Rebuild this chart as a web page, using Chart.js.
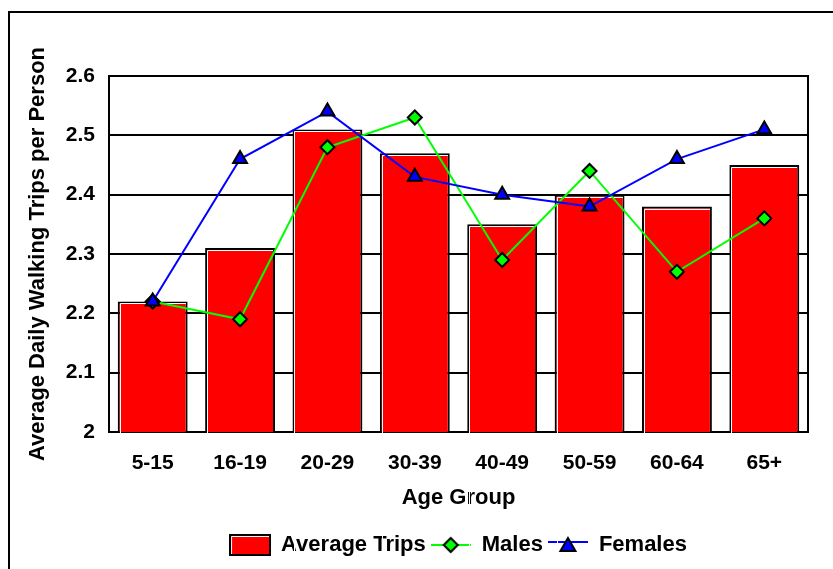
<!DOCTYPE html>
<html>
<head>
<meta charset="utf-8">
<script src="https://cdn.jsdelivr.net/npm/chart.js@4/dist/chart.umd.min.js"></script>
<style>
  body { margin: 0; background: #fff; }
  canvas { display: block; }
</style>
</head>
<body>
<canvas id="walkChart" width="833" height="569"></canvas>
<script>
const ageGroups = ['5-15', '16-19', '20-29', '30-39', '40-49', '50-59', '60-64', '65+'];
const averageTrips = [2.22, 2.31, 2.51, 2.47, 2.35, 2.40, 2.38, 2.45];
const males = [2.22, 2.19, 2.48, 2.53, 2.29, 2.44, 2.27, 2.36];
const females = [2.22, 2.46, 2.54, 2.43, 2.40, 2.38, 2.46, 2.51];
const yTickLabels = ['2', '2.1', '2.2', '2.3', '2.4', '2.5', '2.6'];

const FONT = "'Liberation Sans', Arial, sans-serif";

// little canvases used as legend symbols
function makeIcon(w, h, draw) {
  const c = document.createElement('canvas');
  c.width = w;
  c.height = h;
  draw(c.getContext('2d'), w, h);
  return c;
}

const barIcon = makeIcon(42, 22, (ctx) => {
  ctx.fillStyle = '#ff0000';
  ctx.fillRect(1, 1, 40, 20);
  ctx.strokeStyle = '#000';
  ctx.lineWidth = 2;
  ctx.strokeRect(1, 1, 40, 20);
  ctx.strokeStyle = '#fff';
  ctx.lineWidth = 1;
  ctx.beginPath();
  ctx.moveTo(2.5, 20);
  ctx.lineTo(2.5, 2.5);
  ctx.lineTo(40, 2.5);
  ctx.stroke();
});

const maleIcon = makeIcon(40, 18, (ctx, w, h) => {
  ctx.strokeStyle = '#00ff00';
  ctx.lineWidth = 2;
  ctx.beginPath();
  ctx.moveTo(0, 9);
  ctx.lineTo(w, 9);
  ctx.stroke();
  ctx.beginPath();
  ctx.moveTo(20, 2);
  ctx.lineTo(27, 9);
  ctx.lineTo(20, 16);
  ctx.lineTo(13, 9);
  ctx.closePath();
  ctx.fillStyle = '#00ff00';
  ctx.fill();
  ctx.strokeStyle = '#000';
  ctx.stroke();
});

const femaleIcon = makeIcon(40, 18, (ctx, w, h) => {
  ctx.strokeStyle = '#0000ff';
  ctx.lineWidth = 2;
  ctx.beginPath();
  ctx.moveTo(0, 6);
  ctx.lineTo(w, 6);
  ctx.stroke();
  ctx.beginPath();
  ctx.moveTo(20, 2);
  ctx.lineTo(27.5, 15);
  ctx.lineTo(12.5, 15);
  ctx.closePath();
  ctx.fillStyle = '#0000ff';
  ctx.fill();
  ctx.strokeStyle = '#000';
  ctx.stroke();
});
const legendIcons = [barIcon, maleIcon, femaleIcon];

// frame round the plot and the outer frame of the picture
const framePlugin = {
  id: 'frames',
  beforeDatasetsDraw(chart) {
    const {ctx, chartArea} = chart;
    ctx.save();
    ctx.strokeStyle = '#000';
    ctx.lineWidth = 2;
    ctx.strokeRect(chartArea.left, chartArea.top, chartArea.right - chartArea.left, chartArea.bottom - chartArea.top);
    ctx.beginPath();
    ctx.moveTo(9, 569);
    ctx.lineTo(9, 12);
    ctx.lineTo(833, 12);
    ctx.stroke();
    ctx.restore();
  },
  // white highlight inside the bars (old 3d look)
  afterDatasetDraw(chart, args) {
    if (args.index !== 0) return;
    const ctx = chart.ctx;
    ctx.save();
    ctx.strokeStyle = '#fff';
    ctx.lineWidth = 1;
    args.meta.data.forEach(bar => {
      const left = Math.round(bar.x - bar.width / 2) + 2.5;
      const right = Math.round(bar.x + bar.width / 2) - 2;
      const top = Math.round(bar.y) + 2.5;
      ctx.beginPath();
      ctx.moveTo(left, bar.base - 2);
      ctx.lineTo(left, top);
      ctx.lineTo(right, top);
      ctx.stroke();
    });
    ctx.restore();
  }
};

new Chart(document.getElementById('walkChart'), {
  type: 'bar',
  data: {
    labels: ageGroups,
    datasets: [
      {
        label: 'Average Trips',
        data: averageTrips,
        backgroundColor: '#ff0000',
        borderColor: '#000',
        borderWidth: 2,
        borderSkipped: false,
        barPercentage: 0.8,
        categoryPercentage: 1,
        order: 3
      },
      {
        type: 'line',
        label: 'Males',
        data: males,
        borderColor: '#00ff00',
        borderWidth: 2,
        backgroundColor: '#00ff00',
        pointStyle: 'rectRot',
        pointRadius: 7,
        pointBorderColor: '#000',
        pointBorderWidth: 2,
        tension: 0,
        order: 2
      },
      {
        type: 'line',
        label: 'Females',
        data: females,
        borderColor: '#0000ff',
        borderWidth: 2,
        backgroundColor: '#0000ff',
        pointStyle: 'triangle',
        pointRadius: 8,
        pointBorderColor: '#000',
        pointBorderWidth: 2,
        tension: 0,
        order: 1
      }
    ]
  },
  options: {
    responsive: false,
    animation: false,
    layout: {
      padding: {left: 22, top: 76, right: 25, bottom: 3}
    },
    plugins: {
      tooltip: {enabled: false},
      legend: {
        position: 'bottom',
        fullSize: false,
        labels: {
          color: '#000',
          font: {family: FONT, size: 22, weight: 'bold'},
          usePointStyle: true,
          pointStyleWidth: 40,
          padding: 5,
          generateLabels: chart => {
            const items = Chart.defaults.plugins.legend.labels.generateLabels(chart);
            items.sort((a, b) => a.datasetIndex - b.datasetIndex);
            items.forEach(it => { it.pointStyle = legendIcons[it.datasetIndex]; });
            return items;
          }
        }
      }
    },
    scales: {
      x: {
        grid: {display: false, drawTicks: false},
        border: {display: false},
        ticks: {
          color: '#000',
          padding: 19,
          font: {family: FONT, size: 21, weight: 'bold'}
        },
        title: {
          display: true,
          text: 'Age Group',
          color: '#000',
          font: {family: FONT, size: 22, weight: 'bold'},
          padding: {top: 0, bottom: 18}
        },
        afterFit: scale => { scale.height = 97; }
      },
      y: {
        min: 2,
        max: 2.6,
        grid: {color: '#000', lineWidth: 2, drawTicks: false},
        border: {display: false},
        ticks: {
          stepSize: 0.1,
          color: '#000',
          padding: 14,
          font: {family: FONT, size: 21, weight: 'bold'},
          callback: (v, i) => yTickLabels[i]
        },
        title: {
          display: true,
          text: 'Average Daily Walking Trips per Person',
          color: '#000',
          font: {family: FONT, size: 22, weight: 'bold'},
          padding: {top: 3, bottom: 0}
        },
        afterFit: scale => { scale.width = 87; }
      }
    }
  },
  plugins: [framePlugin]
});
</script>
</body>
</html>
